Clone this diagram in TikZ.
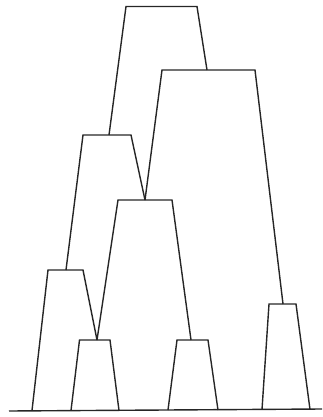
\documentclass[tikz,border=0pt]{standalone}
\begin{document}
\begin{tikzpicture}[x=1pt,y=-1pt,
  branch/.style={draw=black!85,line width=1.4pt,line join=miter}]
\useasboundingbox (0,0) rectangle (322,417);
% junction points
\coordinate (jL) at (109,135);
\coordinate (jS) at (207,70);
\coordinate (jH) at (145,200);
\coordinate (jR) at (283,304);
\coordinate (jE) at (66,270);
\coordinate (jM) at (97,340);
\coordinate (jN) at (191,340);
% leaf feet
\coordinate (fE) at (32,410.5);
% top trapezoid
\coordinate (a1) at (126,6.5); \coordinate (a2) at (197,6.5);
\draw[branch] (jL) -- (a1) -- (a2) -- (jS);
% second trapezoid
\coordinate (b1) at (162,70); \coordinate (b2) at (255,70);
\draw[branch] (jH) -- (b1) -- (b2) -- (jR);
% left-mid trapezoid
\coordinate (c1) at (83,135); \coordinate (c2) at (131,135);
\draw[branch] (jE) -- (c1) -- (c2) -- (jH);
% middle trapezoid
\coordinate (d1) at (118,200); \coordinate (d2) at (172,200);
\draw[branch] (jM) -- (d1) -- (d2) -- (jN);
% lower-left trapezoid
\coordinate (e1) at (48,270); \coordinate (e2) at (83,270);
\draw[branch] (fE) -- (e1) -- (e2) -- (jM);
% small leaves
\coordinate (s1a) at (71,410.5); \coordinate (s1b) at (79.5,340);
\coordinate (s1c) at (110,340); \coordinate (s1d) at (119,410.5);
\draw[branch] (s1a) -- (s1b) -- (s1c) -- (s1d);
\coordinate (s2a) at (168,410); \coordinate (s2b) at (177,340);
\coordinate (s2c) at (208,340); \coordinate (s2d) at (218,410);
\draw[branch] (s2a) -- (s2b) -- (s2c) -- (s2d);
\coordinate (s3a) at (262,409.5); \coordinate (s3b) at (269,304);
\coordinate (s3c) at (296,304); \coordinate (s3d) at (310,409.5);
\draw[branch] (s3a) -- (s3b) -- (s3c) -- (s3d);
% ground
\coordinate (g1) at (9,411); \coordinate (g2) at (322,409);
\draw[branch] (g1) -- (g2);
\end{tikzpicture}
\end{document}
